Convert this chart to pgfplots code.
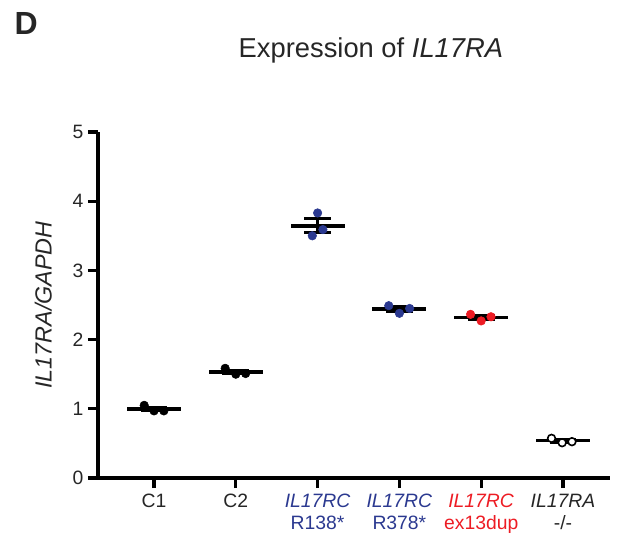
\documentclass[border=0pt]{standalone}
\usepackage{pgfplots}
\pgfplotsset{compat=1.18}
\usepackage{pgfplotstable}
\usepackage{fontspec}
\setmainfont{Liberation Sans}
\definecolor{dblue}{RGB}{43,57,144}
\definecolor{dred}{RGB}{237,28,36}

\pgfplotstableread{
x y
-0.12 1.05
0.00 0.97
0.12 0.97
0.87 1.585
1.00 1.50
1.12 1.51
}\blackpts
\pgfplotstableread{
x y
1.935 3.50
2.00 3.83
2.065 3.59
2.87 2.49
3.00 2.38
3.125 2.45
}\bluepts
\pgfplotstableread{
x y
3.87 2.365
4.00 2.27
4.12 2.33
}\redpts
\pgfplotstableread{
x y
4.86 0.573
4.99 0.51
5.11 0.525
}\openpts
\pgfplotstableread{
x mean sem
0 1.00 0.02
1 1.53 0.025
2 3.645 0.10
3 2.44 0.03
4 2.32 0.028
5 0.54 0.02
}\means

\begin{document}
\begin{tikzpicture}
\useasboundingbox (-73.5pt,-46.5pt) rectangle (393pt,358.5pt);
\begin{axis}[
  at={(0pt,0pt)}, anchor=south west,
  width=384pt, height=259.5pt, scale only axis,
  xmin=-0.685, xmax=5.575, ymin=0, ymax=5,
  axis lines=left,
  axis line style={line width=2.3pt, -},
  every tick/.style={line width=2.3pt, black},
  tick align=outside,
  major tick length=7.5pt,
  xtick={0,1,2,3,4,5},
  ytick={0,1,2,3,4,5},
  xticklabels={
    C1,
    C2,
    \textcolor{dblue}{\textit{IL17RC}}\\\textcolor{dblue}{R138*},
    \textcolor{dblue}{\textit{IL17RC}}\\\textcolor{dblue}{R378*},
    \textcolor{dred}{\textit{IL17RC}}\\\textcolor{dred}{ex13dup},
    \textit{IL17RA}\\-/-
  },
  xticklabel style={align=center, anchor=north, font=\fontsize{14.5}{16.5}\selectfont, text=black!85, yshift=-1pt},
  yticklabel style={font=\fontsize{14.5}{16.5}\selectfont, text=black!85},
  /pgf/number format/assume math mode=true,
  ylabel={\textit{IL17RA/GAPDH}},
  ylabel style={at={(axis description cs:-0.107,0.5)}, anchor=center, font=\fontsize{17.5}{20}\selectfont, text=black!85},
  title={Expression of \textit{IL17RA}},
  title style={at={(axis description cs:0.533,1.191)}, anchor=base, font=\fontsize{20.5}{24}\selectfont, text=black!85},
  clip=false,
]
% mean lines (horizontal x error bars)
\addplot[draw=none, mark=none, forget plot,
  error bars/.cd, x dir=both, x fixed=0.33, error mark=none,
  error bar style={line width=2.6pt, black}]
  table[x=x, y=mean] {\means};
% SEM error bars
\addplot[draw=none, mark=none, forget plot,
  error bars/.cd, y dir=both, y explicit,
  error bar style={line width=2.4pt, black},
  error mark options={mark size=10pt, line width=2.4pt, black, rotate=90}]
  table[x=x, y=mean, y error=sem] {\means};
% points
\addplot[only marks, mark=*, mark size=3.2pt, mark options={fill=black, draw=black}] table {\blackpts};
\addplot[only marks, mark=*, mark size=3.2pt, mark options={fill=dblue, draw=dblue}] table {\bluepts};
\addplot[only marks, mark=*, mark size=3.2pt, mark options={fill=dred, draw=dred}] table {\redpts};
\addplot[only marks, mark=*, mark size=2.9pt, mark options={fill=white, draw=black, line width=1.2pt}] table {\openpts};
\node[anchor=base west, font=\bfseries\fontsize{24}{28}\selectfont, text=black!85] at (axis description cs:-0.172,1.283) {D};
\end{axis}
\end{tikzpicture}
\end{document}
